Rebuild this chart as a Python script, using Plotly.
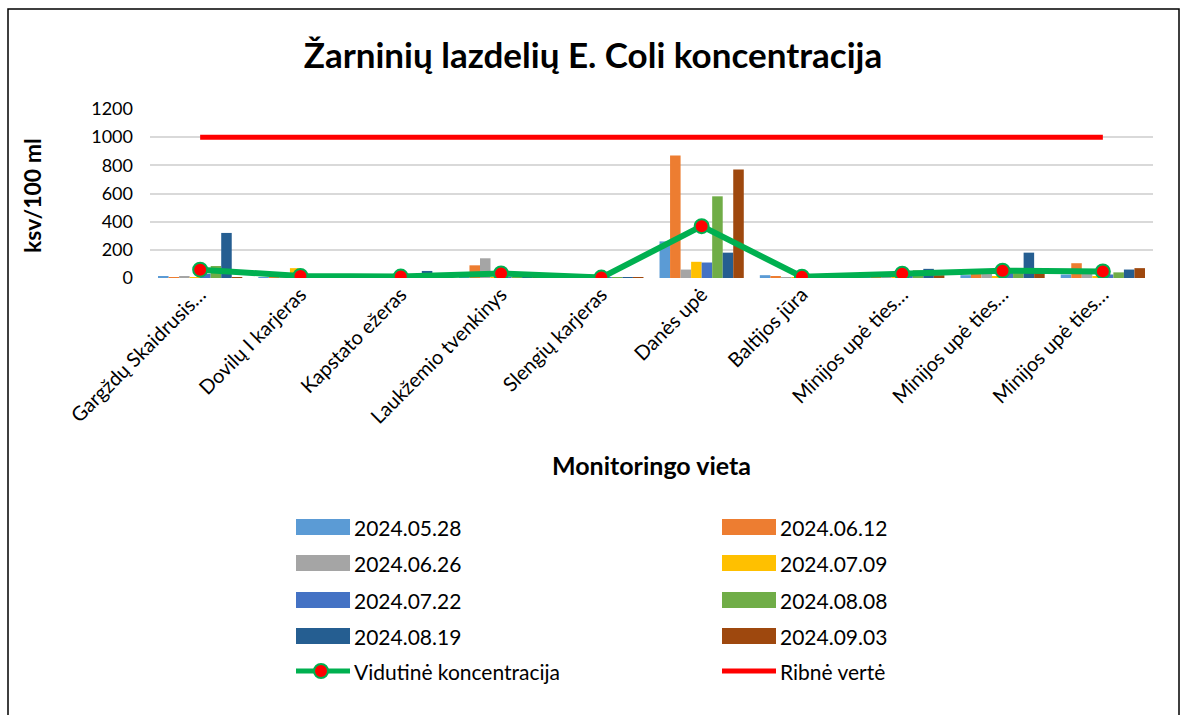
import plotly.graph_objects as go

# Monitoring sites (tick labels as shown on the axis)
sites = [
    "Gargždų Skaidrusis…",
    "Dovilų I karjeras",
    "Kapstato ežeras",
    "Laukžemio tvenkinys",
    "Slengių karjeras",
    "Danės upė",
    "Baltijos jūra",
    "Minijos upė ties…",
    "Minijos upė ties…",
    "Minijos upė ties…",
]

# E. coli counts per sampling date (ksv/100 ml)
d_0528 = [10, 5, 5, 5, 2, 260, 20, 15, 20, 25]
d_0612 = [5, 10, 5, 90, 5, 870, 10, 20, 35, 105]
d_0626 = [10, 5, 5, 140, 3, 60, 5, 25, 30, 40]
d_0709 = [5, 70, 5, 5, 2, 115, 5, 10, 10, 10]
d_0722 = [30, 5, 5, 5, 2, 110, 5, 40, 50, 25]
d_0808 = [85, 10, 5, 5, 3, 580, 10, 55, 50, 40]
d_0819 = [320, 5, 50, 5, 2, 180, 5, 65, 180, 60]
d_0903 = [5, 10, 5, 5, 5, 770, 10, 20, 40, 70]

# Mean concentration per site and the limit value
mean_conc = [59, 15, 10, 32, 3, 368, 9, 31, 52, 47]
limit_value = [1000, 1000, 1000, 1000, 1000, 1000, 1000, 1000, 1000, 1000]

date_labels = ["2024.05.28", "2024.06.12", "2024.06.26", "2024.07.09",
               "2024.07.22", "2024.08.08", "2024.08.19", "2024.09.03"]
date_series = [d_0528, d_0612, d_0626, d_0709, d_0722, d_0808, d_0819, d_0903]
date_colors = ["#5B9BD5", "#ED7D31", "#A5A5A5", "#FFC000",
               "#4472C4", "#70AD47", "#255E91", "#9E480E"]

mean_name = "Vidutinė koncentracija"
limit_name = "Ribnė vertė"
GREEN = "#00B050"
RED = "#FF0000"

yticks = [0, 200, 400, 600, 800, 1000, 1200]

FONT = "Lato"
W, H = 1181, 715
ML, MR, MT, MB = 150, 28, 109, 437
PW, PH = W - ML - MR, H - MT - MB


def px(x):
    """pixel x -> paper x"""
    return (x - ML) / PW


def py(y):
    """pixel y (from top) -> paper y"""
    return (H - MB - y) / PH


xpos = list(range(len(sites)))

fig = go.Figure()

for name, vals, col in zip(date_labels, date_series, date_colors):
    fig.add_trace(go.Bar(x=xpos, y=vals, name=name, marker_color=col,
                         marker_line_width=0, showlegend=False))

fig.add_trace(go.Scatter(
    x=xpos, y=mean_conc, name=mean_name, mode="lines+markers",
    line=dict(color=GREEN, width=6),
    marker=dict(color=RED, size=14, line=dict(color=GREEN, width=2)),
    showlegend=False))

fig.add_trace(go.Scatter(
    x=xpos, y=limit_value, name=limit_name, mode="lines",
    line=dict(color=RED, width=5), showlegend=False))

shapes = []
annotations = []

# outer chart frame
shapes.append(dict(type="rect", xref="paper", yref="paper",
                   x0=px(8), x1=px(1179), y0=py(740), y1=py(9),
                   line=dict(color="#000000", width=1.5), fillcolor="rgba(0,0,0,0)",
                   layer="below"))

# legend: two columns, rows top to bottom
entries = [(n, "bar", c) for n, c in zip(date_labels, date_colors)]
entries += [(mean_name, "mean", GREEN), (limit_name, "limit", RED)]
col_x = [296, 722]
row_y = [527, 563, 600, 636, 671]
sw = 54
for i, (name, kind, col) in enumerate(entries):
    cx = col_x[i % 2]
    cy = row_y[i // 2]
    if kind == "bar":
        shapes.append(dict(type="rect", xref="paper", yref="paper",
                           x0=px(cx), x1=px(cx + sw), y0=py(cy + 8), y1=py(cy - 8),
                           fillcolor=col, line=dict(width=0)))
    else:
        shapes.append(dict(type="line", xref="paper", yref="paper",
                           x0=px(cx), x1=px(cx + sw), y0=py(cy), y1=py(cy),
                           line=dict(color=col, width=5)))
        if kind == "mean":
            mx = cx + 25
            shapes.append(dict(type="circle", xref="paper", yref="paper",
                               x0=px(mx - 7), x1=px(mx + 7), y0=py(cy + 7), y1=py(cy - 7),
                               fillcolor=RED, line=dict(color=GREEN, width=2)))
    annotations.append(dict(text=name, xref="paper", yref="paper",
                            x=px(cx + sw + 2), y=py(cy), xanchor="left", yanchor="middle",
                            showarrow=False, font=dict(family=FONT, size=21, color="#000000")))

# axis titles
annotations.append(dict(text="<b>Monitoringo vieta</b>", xref="paper", yref="paper",
                        x=px(651), y=py(465), xanchor="center", yanchor="middle",
                        showarrow=False, font=dict(family=FONT, size=25, color="#000000")))
annotations.append(dict(text="<b>ksv/100 ml</b>", xref="paper", yref="paper",
                        x=px(32), y=py(196), xanchor="center", yanchor="middle",
                        textangle=-90, showarrow=False,
                        font=dict(family=FONT, size=23, color="#000000")))

fig.update_layout(
    width=W, height=H,
    margin=dict(l=ML, r=MR, t=MT, b=MB, autoexpand=False),
    paper_bgcolor="white", plot_bgcolor="white",
    font=dict(family=FONT, size=18, color="#000000"),
    title=dict(text="<b>Žarninių lazdelių E. Coli koncentracija</b>",
               x=593 / W, xanchor="center", y=1 - 56 / H, yanchor="middle",
               font=dict(family=FONT, size=35, color="#000000")),
    barmode="group", bargap=0.16, bargroupgap=0,
    showlegend=False,
    shapes=shapes, annotations=annotations,
    xaxis=dict(range=[-0.5, len(sites) - 0.5], tickmode="array",
               tickvals=xpos, ticktext=sites, tickangle=-45,
               showgrid=False, zeroline=False, showline=False, ticks="",
               tickfont=dict(family=FONT, size=20)),
    yaxis=dict(range=[0, 1200], tickmode="array", tickvals=yticks,
               showgrid=True, gridcolor="#D9D9D9", gridwidth=2,
               zeroline=False, showline=False, ticks="",
               ticklabelstandoff=16,
               tickfont=dict(family=FONT, size=18)),
)

fig.write_html("out.html")
